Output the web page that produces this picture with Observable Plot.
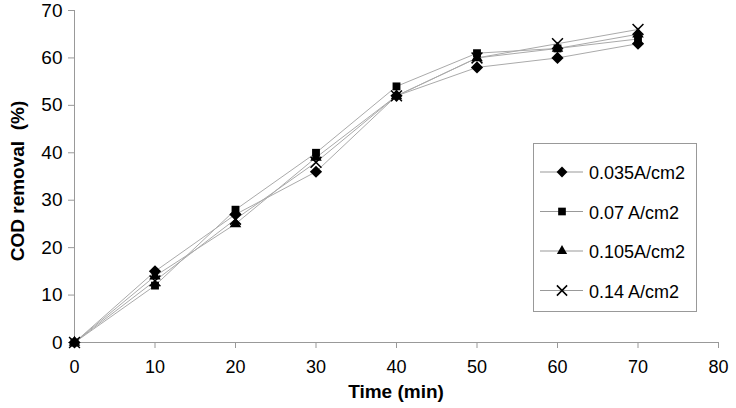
<!DOCTYPE html>
<html>
<head>
<meta charset="utf-8">
<script src="https://cdn.jsdelivr.net/npm/d3@7"></script>
<script src="https://cdn.jsdelivr.net/npm/@observablehq/plot@0.6"></script>
<style>
  html, body { margin: 0; padding: 0; background: #fff; }
  #wrap { position: relative; width: 736px; height: 408px; font-family: "Liberation Sans", Arial, sans-serif; }
  #legend { position: absolute; left: 533px; top: 143px; width: 164px; height: 169px; border: 1px solid #999; background: #fff; box-sizing: border-box; }
</style>
</head>
<body>
<div id="wrap"></div>
<script>
const times = [0, 10, 20, 30, 40, 50, 60, 70];
const s035 = [0, 15, 27, 36, 52, 58, 60, 63];
const s07  = [0, 12, 28, 40, 54, 61, 62, 64];
const s105 = [0, 14, 25, 39, 52, 60, 62, 65];
const s14  = [0, 13, 26, 38, 52, 60, 63, 66];
const seriesNames = ["0.035A/cm2", "0.07 A/cm2", "0.105A/cm2", "0.14 A/cm2"];
const seriesSymbols = ["diamond2", "square2", "triangle2", "times"];
const xTicks = [0, 10, 20, 30, 40, 50, 60, 70, 80];
const yTicks = [0, 10, 20, 30, 40, 50, 60, 70];

const allSeries = [s035, s07, s105, s14];
const rows = [];
allSeries.forEach((vals, si) => {
  vals.forEach((v, i) => rows.push({series: seriesNames[si], t: times[i], v, sym: seriesSymbols[si]}));
});

const marks = [
  Plot.ruleX([0], {stroke: "#999"}),
  Plot.ruleY([0], {stroke: "#999"}),
  Plot.axisX({ticks: xTicks, tickSize: 6, tickPadding: 12, stroke: "#999", fill: "#000", fontSize: 18, label: null}),
  Plot.axisY({ticks: yTicks, tickSize: 6, tickPadding: 6, stroke: "#999", fill: "#000", fontSize: 19, label: null}),
  Plot.line(rows, {x: "t", y: "v", z: "series", stroke: "#aaa", strokeWidth: 1})
];
seriesNames.forEach((name, si) => {
  const data = rows.filter(d => d.series === name);
  if (seriesSymbols[si] === "times") {
    marks.push(Plot.dot(data, {x: "t", y: "v", symbol: () => "times", r: 5, stroke: "#000", strokeWidth: 1.5, fill: "none"}));
  } else {
    marks.push(Plot.dot(data, {x: "t", y: "v", symbol: () => seriesSymbols[si], r: si === 1 ? 5 : 5.5, fill: "#000", stroke: "none"}));
  }
});

const chart = Plot.plot({
  width: 736,
  height: 408,
  marginLeft: 74,
  marginRight: 18,
  marginTop: 10,
  marginBottom: 66,
  style: {fontFamily: "Liberation Sans, Arial, sans-serif", background: "#fff", color: "#000"},
  x: {domain: [0, 80], label: null},
  y: {domain: [0, 70], label: null},
  symbol: {domain: seriesSymbols, range: seriesSymbols},
  marks
});
const wrap = document.getElementById("wrap");
wrap.appendChild(chart);

// axis titles
const svg = d3.select(chart);
svg.append("text")
  .attr("x", 396).attr("y", 398)
  .attr("text-anchor", "middle")
  .attr("font-size", 19).attr("font-weight", "bold")
  .attr("font-family", "Liberation Sans, Arial, sans-serif")
  .text("Time (min)");
svg.append("text")
  .attr("transform", "translate(24,181) rotate(-90)")
  .attr("text-anchor", "middle")
  .attr("font-size", 19).attr("font-weight", "bold")
  .attr("font-family", "Liberation Sans, Arial, sans-serif")
  .attr("xml:space", "preserve")
  .style("white-space", "pre")
  .text("COD removal  (%)");

// legend
const leg = document.createElement("div");
leg.id = "legend";
wrap.appendChild(leg);
const lsvg = d3.select(leg).append("svg").attr("width", 162).attr("height", 167);
const symFns = {diamond2: d3.symbolDiamond2, square2: d3.symbolSquare2, triangle2: d3.symbolTriangle2, times: d3.symbolTimes};
seriesNames.forEach((name, i) => {
  const y = 28 + i * 39.5;
  const g = lsvg.append("g").attr("transform", `translate(0,${y})`);
  g.append("line").attr("x1", 6).attr("x2", 49).attr("y1", 0).attr("y2", 0).attr("stroke", "#999");
  const sym = seriesSymbols[i];
  const p = g.append("path").attr("transform", "translate(28,0)")
    .attr("d", d3.symbol(symFns[sym], sym === "times" ? 70 : 75)());
  if (sym === "times") p.attr("fill", "none").attr("stroke", "#000").attr("stroke-width", 1.5);
  else p.attr("fill", "#000");
  g.append("text").attr("x", 55).attr("y", 7).attr("font-size", 18)
    .attr("font-family", "Liberation Sans, Arial, sans-serif").text(name);
});
</script>
</body>
</html>
